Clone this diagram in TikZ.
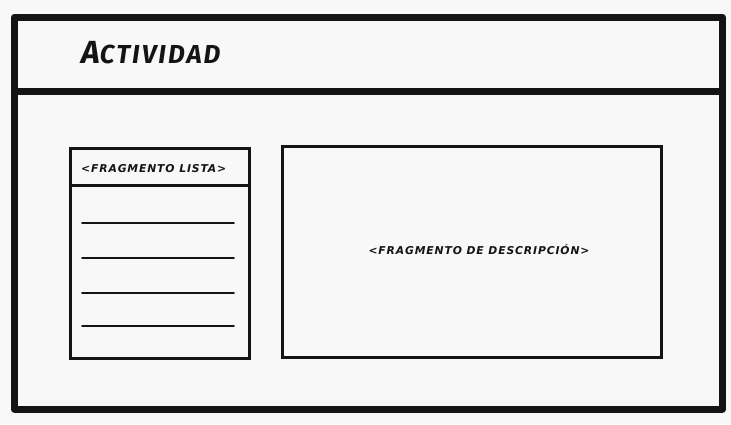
\documentclass[tikz,border=0pt]{standalone}
\usepackage{fontspec}
\setmainfont{Fira Sans}
\newfontfamily\sketchfont[LetterSpace=8]{DejaVu Sans}
\newfontfamily\titlefont[LetterSpace=8]{Fira Sans}
\usetikzlibrary{positioning}
\definecolor{paper}{HTML}{F8F8F8}
\definecolor{ink}{HTML}{141414}
\tikzset{
  thickframe/.style={draw=ink, line width=7pt, line join=round},
  panelbox/.style={draw=ink, line width=3pt, inner sep=0pt},
  listline/.style={draw=ink, line width=1.6pt, line cap=round},
  smalltext/.style={font=\sketchfont\bfseries\itshape\fontsize{10.8}{12}\selectfont, text=ink, inner sep=0pt}
}
\begin{document}
\begin{tikzpicture}[x=1pt,y=-1pt]
\fill[paper] (0,0) rectangle (731,424);
\useasboundingbox (0,0) rectangle (731,424);
% outer window
\node[thickframe, minimum width=708pt, minimum height=392pt, inner sep=0pt, anchor=north west] (win) at (11,13.5) {};
\coordinate (divL) at (11,91);
\coordinate (divR) at (719,91);
\draw[thickframe] (divL) -- (divR);
\node[anchor=base west, inner sep=0pt, text=ink, font=\titlefont\bfseries\itshape] (title) at (81,63)
  {\fontsize{32}{32}\selectfont A\fontsize{26}{26}\selectfont CTIVIDAD};
% list fragment
\node[panelbox, minimum width=178.5pt, minimum height=210.5pt, anchor=north west] (list) at (69,146.5) {};
\coordinate (lhL) at (69,185);
\coordinate (lhR) at (247.5,185);
\draw[panelbox] (lhL) -- (lhR);
\node[smalltext, anchor=base west] (listlabel) at (81,172) {<FRAGMENTO LISTA>};
\foreach \y [count=\i] in {223,258,293,326}{
  \coordinate (a\i) at (82,\y);
  \coordinate (b\i) at (234,\y);
  \draw[listline] (a\i) -- (b\i);
}
% description fragment
\node[panelbox, minimum width=379.5pt, minimum height=210.5pt, anchor=north west] (desc) at (280.5,145) {};
\node[smalltext] (desclabel) at (479,250) {<FRAGMENTO DE DESCRIPCIÓN>};
\end{tikzpicture}
\end{document}
